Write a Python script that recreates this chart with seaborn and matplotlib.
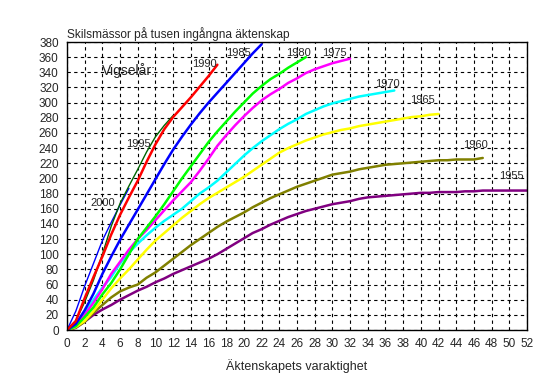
import pandas as pd
import seaborn as sns
import numpy as np
import matplotlib.pyplot as plt

# Skilsmässor per 1000 äktenskap, efter äktenskapets varaktighet (år)
y1955 = [0, 3, 11, 20, 27, 33, 40, 46, 52, 57, 63, 68, 74, 79, 84, 89, 94, 100, 107, 114,
         121, 128, 133, 139, 144, 149, 153, 157, 160, 163, 166, 168, 170, 173, 175, 176, 177,
         178, 179, 180, 181, 181, 182, 182, 182, 183, 183, 184, 184, 184, 184, 184, 184]
y1960 = [0, 3, 11, 23, 33, 43, 51, 56, 60, 69, 76, 85, 94, 103, 112, 120, 128, 136, 143, 149,
         155, 162, 168, 174, 179, 184, 189, 193, 197, 201, 205, 207, 209, 212, 214, 216, 218,
         219, 220, 221, 222, 223, 224, 224, 225, 225, 225, 227]
y1965 = [0, 4, 12, 25, 40, 55, 68, 80, 93, 106, 118, 128, 138, 148, 157, 166, 174, 181, 188,
         195, 202, 210, 218, 226, 234, 240, 245, 250, 254, 258, 261, 264, 266, 269, 271, 273,
         275, 277, 279, 281, 282, 284, 285]
y1970 = [0, 5, 23, 40, 56, 70, 88, 102, 114, 125, 135, 144, 152, 160, 170, 180, 188, 197, 208,
         219, 230, 240, 249, 257, 265, 272, 278, 285, 290, 295, 299, 302, 305, 308, 310, 312,
         314, 316]
y1975 = [0, 6, 20, 36, 54, 74, 90, 106, 120, 132, 145, 158, 171, 183, 195, 210, 226, 243, 257,
         270, 282, 293, 303, 311, 318, 326, 332, 339, 344, 348, 352, 355, 358]
y1980 = [0, 5, 17, 30, 47, 62, 80, 100, 120, 135, 150, 166, 183, 200, 216, 232, 248, 262, 275,
         288, 300, 312, 322, 331, 338, 346, 353, 360]
y1985 = [0, 8, 26, 48, 74, 97, 119, 139, 159, 179, 199, 219, 238, 255, 271, 286, 300, 313, 326,
         339, 352, 365, 377]
y1990 = [0, 12, 42, 70, 97, 126, 152, 175, 197, 222, 245, 265, 281, 294, 307, 321, 335, 350]
y1995 = [0, 12, 37, 66, 100, 137, 167, 190, 212, 235, 255, 270, 283]
y2000 = [0, 25, 58, 88, 118, 142, 165, 187]

series = {"1955": y1955, "1960": y1960, "1965": y1965, "1970": y1970, "1975": y1975,
          "1980": y1980, "1985": y1985, "2000": y2000, "1995": y1995, "1990": y1990}

colors = {"1955": "#800080", "1960": "#808000", "1965": "#ffff00", "1970": "#00ffff",
          "1975": "#ff00ff", "1980": "#00ff00", "1985": "#0000ff", "1990": "#ff0000",
          "1995": "#006400", "2000": "#0000ff"}

# label positions (data coords, left edge)
labels = {"1955": (48.9, 203), "1960": (44.8, 244), "1965": (38.8, 303), "1970": (34.8, 325),
          "1975": (28.8, 365), "1980": (24.8, 365), "1985": (18.0, 365), "1990": (14.1, 351),
          "1995": (6.7, 245), "2000": (2.6, 168)}

sns.set_style("white")
plt.rcParams['font.family'] = ['Liberation Sans', 'DejaVu Sans']

fig = plt.figure(figsize=(5.56, 3.74), dpi=100)
ax = fig.add_axes([0.1205, 0.1176, 0.8273, 0.7701])

for year, vals in series.items():
    df = pd.DataFrame({"ar": np.arange(len(vals)), "varde": vals})
    lw = 1.0 if year in ("1995", "2000") else 1.8
    sns.lineplot(data=df, x="ar", y="varde", color=colors[year], linewidth=lw, ax=ax)

for year, (lx, ly) in labels.items():
    ax.text(lx, ly, year, fontsize=8, va="center", ha="left")

ax.text(4.0, 342, "Vigselår:", fontsize=10, va="center", ha="left")

ax.set_xlim(0, 52)
ax.set_ylim(0, 380)
ax.set_xticks(np.arange(0, 53, 2))
ax.set_yticks(np.arange(0, 381, 20))
ax.tick_params(length=0, labelsize=8.5, pad=6)
ax.grid(True, linestyle=(0, (3, 3)), color="black", linewidth=0.8)
ax.set_axisbelow(True)
for s in ax.spines.values():
    s.set_color("black")
    s.set_linewidth(1.0)

ax.set_xlabel("Äktenskapets varaktighet", fontsize=9, labelpad=6)
ax.set_ylabel("")
ax.set_title("Skilsmässor på tusen ingångna äktenskap", fontsize=8.6, loc="left", pad=3)

plt.savefig("out.png", dpi=100)
